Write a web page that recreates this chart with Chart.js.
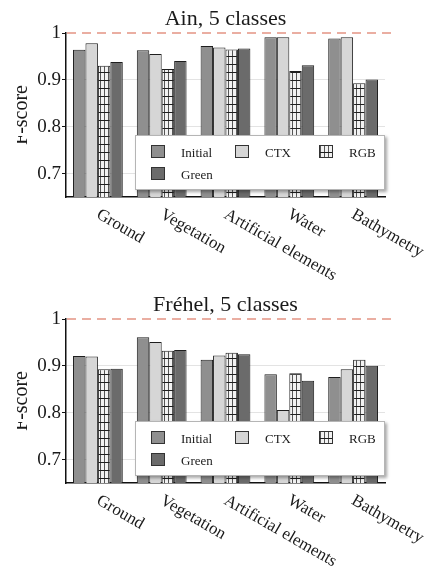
<!DOCTYPE html>
<html>
<head>
    <style>
        body {
            margin: 0;
            background: #fff;
        }
        .panel {
            width: 428px;
            height: 286px;
        }
    </style>
    <script src="https://cdn.jsdelivr.net/npm/chart.js"></script>
</head>
<body>
    <div class="panel"><canvas id="ainChart" width="428" height="286"></canvas></div>
    <div class="panel"><canvas id="frehelChart" width="428" height="286"></canvas></div>
    <script>
        var categories = ['Ground', 'Vegetation', 'Artificial elements', 'Water', 'Bathymetry'];
        var seriesNames = ['Initial', 'CTX', 'RGB', 'Green'];

        // Ain site
        var ainInitial = [0.964, 0.963, 0.972, 0.991, 0.988];
        var ainCtx     = [0.978, 0.955, 0.969, 0.991, 0.991];
        var ainRgb     = [0.930, 0.923, 0.965, 0.919, 0.893];
        var ainGreen   = [0.938, 0.940, 0.967, 0.931, 0.901];

        // Fréhel site
        var frehelInitial = [0.921, 0.961, 0.913, 0.882, 0.876];
        var frehelCtx     = [0.920, 0.951, 0.922, 0.806, 0.893];
        var frehelRgb     = [0.893, 0.932, 0.928, 0.884, 0.913];
        var frehelGreen   = [0.894, 0.934, 0.925, 0.868, 0.900];

        var yTicks = [0.7, 0.8, 0.9, 1];
        var yTickLabels = ['0.7', '0.8', '0.9', '1'];
        var yMin = 0.65;
        var yMax = 1;
        var refLine = 1;

        var serif = "'Liberation Serif', 'DejaVu Serif', serif";
        var textColor = '#1a1a1a';

        // grid hatch used for the RGB bars
        function gridPattern() {
            var c = document.createElement('canvas');
            c.width = 4;
            c.height = 8;
            var g = c.getContext('2d');
            g.fillStyle = '#f2f2f2';
            g.fillRect(0, 0, 4, 8);
            g.fillStyle = '#555';
            g.fillRect(0, 0, 1, 8);
            g.fillStyle = '#1e1e1e';
            g.fillRect(0, 0, 4, 1);
            return g.createPattern(c, 'repeat');
        }

        var fills = ['#8f8f8f', '#d6d6d6', null, '#6b6b6b'];

        // panel title, centred over the plot area
        var panelTitlePlugin = {
            id: 'panelTitle',
            afterDraw: function(chart, args, opts) {
                var ctx = chart.ctx;
                var area = chart.chartArea;
                ctx.save();
                ctx.font = '22px ' + serif;
                ctx.fillStyle = textColor;
                ctx.textAlign = 'center';
                ctx.textBaseline = 'alphabetic';
                ctx.fillText(opts.text, (area.left + area.right) / 2, 25);
                ctx.restore();
            }
        };

        // dashed reference line at F = 1
        var refLinePlugin = {
            id: 'refLine',
            afterDatasetsDraw: function(chart) {
                var ctx = chart.ctx;
                var area = chart.chartArea;
                var y = chart.scales.y.getPixelForValue(refLine);
                ctx.save();
                ctx.strokeStyle = '#e49484';
                ctx.lineWidth = 1.5;
                ctx.setLineDash([9, 6]);
                ctx.beginPath();
                ctx.moveTo(area.left + 1, y);
                ctx.lineTo(area.right + 9, y);
                ctx.stroke();
                ctx.restore();
            }
        };

        // boxed legend sitting over the lower part of the bars
        var boxLegendPlugin = {
            id: 'boxLegend',
            afterDatasetsDraw: function(chart) {
                var ctx = chart.ctx;
                var left = 135, top = 135, w = 250, h = 55;
                ctx.save();
                ctx.shadowColor = 'rgba(0,0,0,0.35)';
                ctx.shadowBlur = 3;
                ctx.shadowOffsetX = 2;
                ctx.shadowOffsetY = 2;
                ctx.fillStyle = '#fff';
                ctx.fillRect(left, top, w, h);
                ctx.restore();
                ctx.save();
                ctx.strokeStyle = '#b5b5b5';
                ctx.lineWidth = 1;
                ctx.strokeRect(left + 0.5, top + 0.5, w - 1, h - 1);
                ctx.font = '13px ' + serif;
                ctx.fillStyle = textColor;
                ctx.textBaseline = 'alphabetic';
                chart.data.datasets.forEach(function(ds, i) {
                    var col = i % 3, row = Math.floor(i / 3);
                    var sx = left + 16 + col * 84;
                    var sy = top + 10 + row * 22;
                    ctx.fillStyle = ds.backgroundColor;
                    ctx.fillRect(sx, sy, 14, 13);
                    ctx.strokeStyle = '#333';
                    ctx.strokeRect(sx + 0.5, sy + 0.5, 13, 12);
                    ctx.fillStyle = textColor;
                    ctx.fillText(ds.label, sx + 30, sy + 12);
                });
                ctx.restore();
            }
        };

        // slanted category names under the x axis
        var slantLabelsPlugin = {
            id: 'slantLabels',
            afterDraw: function(chart) {
                var ctx = chart.ctx;
                var xs = chart.scales.x;
                var bottom = chart.chartArea.bottom;
                ctx.save();
                ctx.font = '17px ' + serif;
                ctx.fillStyle = textColor;
                ctx.textAlign = 'left';
                ctx.textBaseline = 'top';
                chart.data.labels.forEach(function(label, i) {
                    ctx.save();
                    ctx.translate(xs.getPixelForValue(i) + 4, bottom + 9);
                    ctx.rotate(Math.PI / 6);
                    ctx.fillText(label, 0, 0);
                    ctx.restore();
                });
                ctx.restore();
            }
        };

        // y axis title, trimmed at the left edge
        var yTitlePlugin = {
            id: 'yTitle',
            afterDraw: function(chart) {
                var ctx = chart.ctx;
                var area = chart.chartArea;
                ctx.save();
                ctx.beginPath();
                ctx.rect(17, 0, chart.width, chart.height);
                ctx.clip();
                ctx.translate(27, (area.top + area.bottom) / 2);
                ctx.rotate(-Math.PI / 2);
                ctx.font = '20px ' + serif;
                ctx.fillStyle = textColor;
                ctx.textAlign = 'center';
                ctx.textBaseline = 'alphabetic';
                ctx.fillText('F-score', 0, 0);
                ctx.restore();
            }
        };

        function makeChart(id, title, values) {
            var hatch = gridPattern();
            var ctx = document.getElementById(id).getContext('2d');
            return new Chart(ctx, {
                type: 'bar',
                data: {
                    labels: categories,
                    datasets: seriesNames.map(function(name, i) {
                        return {
                            label: name,
                            data: values[i],
                            backgroundColor: fills[i] || hatch,
                            borderColor: '#1e1e1e',
                            borderWidth: 1,
                            borderSkipped: 'bottom',
                            barPercentage: 1,
                            categoryPercentage: 0.78
                        };
                    })
                },
                options: {
                    responsive: false,
                    animation: false,
                    devicePixelRatio: 1,
                    layout: { padding: { left: 0, right: 43, top: 33, bottom: 0 } },
                    plugins: {
                        legend: { display: false },
                        tooltip: { enabled: false },
                        title: { display: false },
                        panelTitle: { text: title }
                    },
                    scales: {
                        x: {
                            ticks: { display: false },
                            grid: { display: false },
                            border: { display: true, color: '#111', width: 1.5 },
                            afterFit: function(scale) { scale.height = 89; }
                        },
                        y: {
                            min: yMin,
                            max: yMax,
                            afterBuildTicks: function(scale) {
                                scale.ticks = yTicks.map(function(v) { return { value: v }; });
                            },
                            afterFit: function(scale) { scale.width = 66; },
                            ticks: {
                                padding: 1,
                                color: textColor,
                                font: { family: serif, size: 19 },
                                callback: function(v) {
                                    var k = yTicks.indexOf(v);
                                    return k >= 0 ? yTickLabels[k] : '';
                                }
                            },
                            grid: {
                                color: function(c) {
                                    return c.tick && c.tick.value === refLine ? 'rgba(0,0,0,0)' : '#e3e3e3';
                                },
                                tickColor: '#111',
                                tickLength: 4
                            },
                            border: { display: true, color: '#111', width: 1.5 }
                        }
                    }
                },
                plugins: [refLinePlugin, boxLegendPlugin, slantLabelsPlugin, yTitlePlugin, panelTitlePlugin]
            });
        }

        makeChart('ainChart', 'Ain, 5 classes', [ainInitial, ainCtx, ainRgb, ainGreen]);
        makeChart('frehelChart', 'Fréhel, 5 classes', [frehelInitial, frehelCtx, frehelRgb, frehelGreen]);
    </script>
</body>
</html>
